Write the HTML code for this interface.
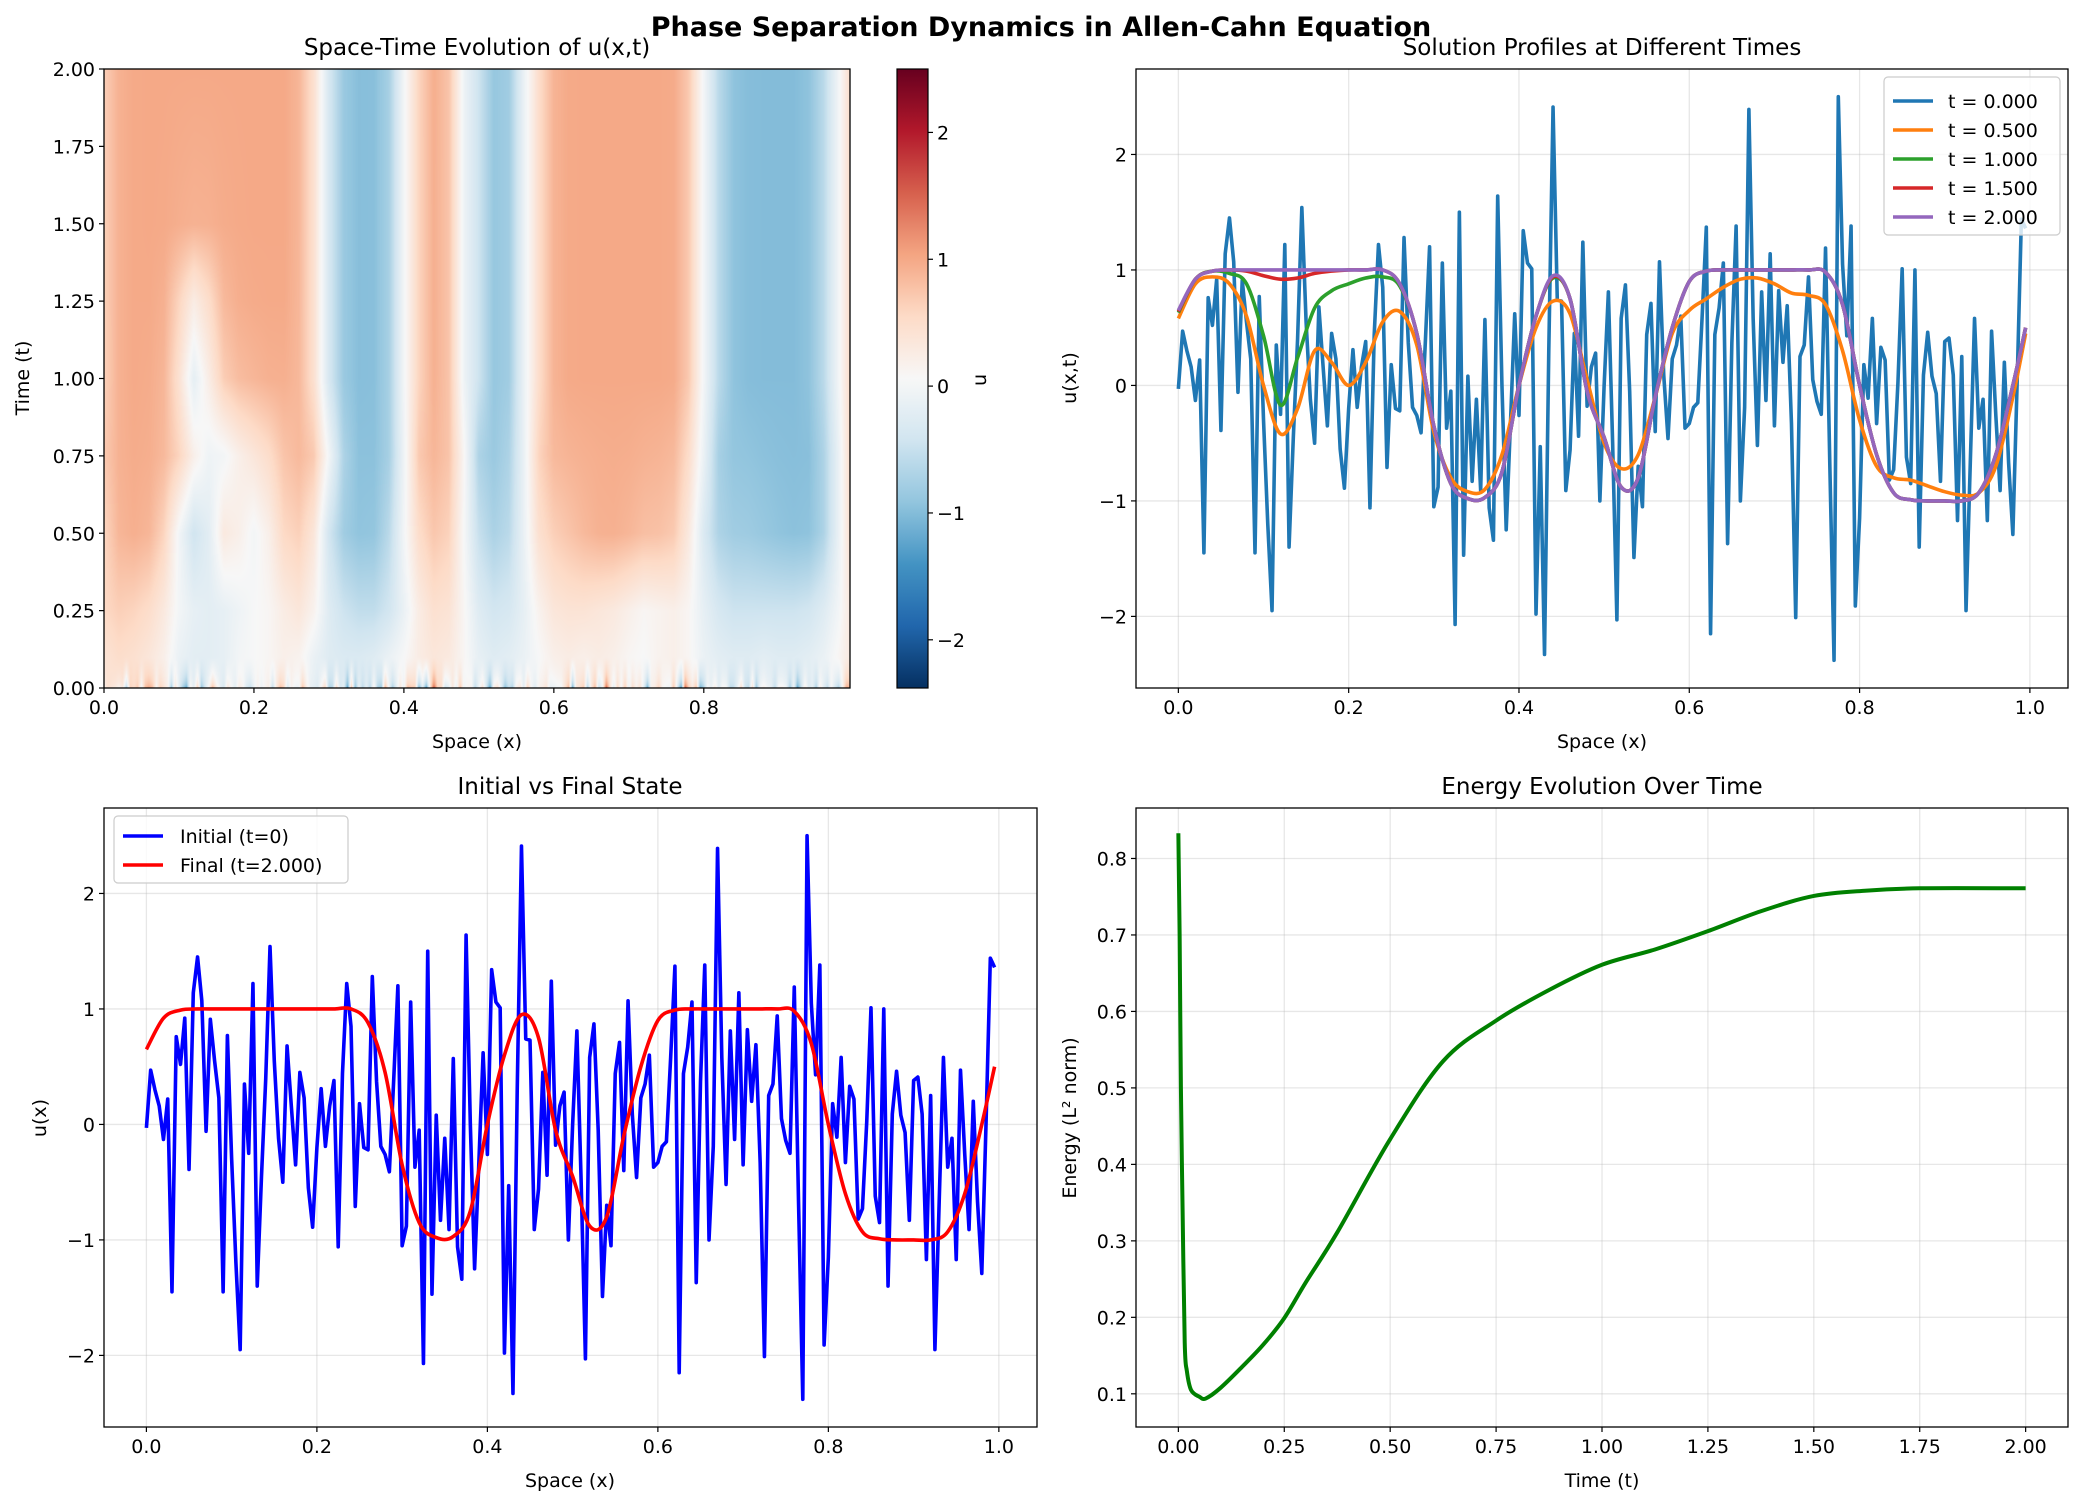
<!DOCTYPE html>
<html><head><meta charset="utf-8">
<style>
html,body{margin:0;padding:0;background:#fff;}
#wrap{position:relative;width:2083px;height:1505px;overflow:hidden;font-family:"DejaVu Sans","Liberation Sans",sans-serif;}
#heat{position:absolute;left:104px;top:69px;}
#svg{position:absolute;left:0;top:0;}
text{font-family:"DejaVu Sans","Liberation Sans",sans-serif;fill:#000;}
</style></head>
<body>
<div id="wrap">
<canvas id="heat" width="746" height="619"></canvas>
<svg id="svg" width="2083" height="1505" xmlns="http://www.w3.org/2000/svg"></svg>
</div>
<script>
// ---------- data ----------
const initialU = [-0.03,0.47,0.3,0.16,-0.13,0.22,-1.45,0.76,0.52,0.92,
-0.39,1.14,1.45,1.07,-0.06,0.91,0.55,0.23,-1.45,0.77,
-0.3,-1.2,-1.95,0.35,-0.25,1.22,-1.4,-0.45,0.4,1.54,
0.55,-0.12,-0.5,0.68,0.16,-0.35,0.45,0.23,-0.55,-0.89,
-0.2,0.31,-0.19,0.16,0.38,-1.06,0.44,1.22,0.85,-0.71,
0.18,-0.2,-0.22,1.28,0.37,-0.19,-0.26,-0.41,0.37,1.2,
-1.05,-0.88,1.06,-0.37,-0.05,-2.07,1.5,-1.47,0.08,-0.83,
-0.12,-0.91,0.57,-1.06,-1.34,1.64,0.0,-1.25,-0.33,0.62,
-0.26,1.34,1.06,1.01,-1.98,-0.53,-2.33,0.3,2.41,0.74,
0.73,-0.91,-0.56,0.45,-0.44,1.24,-0.18,0.16,0.28,-1.0,
0.0,0.81,-0.5,-2.03,0.58,0.87,-0.05,-1.49,-0.7,-1.05,
0.44,0.71,-0.4,1.07,0.09,-0.46,0.23,0.35,0.6,-0.37,
-0.33,-0.19,-0.15,0.58,1.37,-2.15,0.44,0.67,1.06,-1.37,
0.37,1.38,-1.0,-0.19,2.39,0.58,-0.52,0.81,-0.13,1.14,
-0.35,0.82,0.2,0.69,-0.33,-2.01,0.25,0.35,0.94,0.05,
-0.14,-0.25,1.19,-0.67,-2.38,2.5,1.05,0.43,1.38,-1.91,
-1.15,0.18,-0.11,0.58,-0.33,0.33,0.22,-0.82,-0.73,0.02,
1.01,-0.62,-0.85,1.0,-1.4,0.09,0.46,0.08,-0.07,-0.83,
0.38,0.41,0.09,-1.17,0.25,-1.95,-0.67,0.58,-0.37,-0.12,
-1.17,0.47,-0.26,-0.91,0.2,-0.67,-1.29,0.02,1.44,1.36];
const profileX = [0,0.02,0.04,0.06,0.08,0.1,0.12,0.14,0.16,0.18,0.2,0.22,0.24,0.26,0.28,0.3,0.32,0.34,0.36,0.38,0.4,0.42,0.44,0.46,0.48,0.5,0.52,0.54,0.56,0.58,0.6,0.62,0.64,0.66,0.68,0.7,0.72,0.74,0.76,0.78,0.8,0.82,0.84,0.86,0.88,0.9,0.92,0.94,0.96,0.98,0.995];
const uT050 = [0.58,0.88,0.94,0.88,0.6,0.0,-0.42,-0.2,0.3,0.2,0.0,0.2,0.55,0.64,0.35,-0.4,-0.8,-0.92,-0.9,-0.6,0.0,0.5,0.73,0.62,0.05,-0.5,-0.72,-0.6,-0.1,0.45,0.65,0.75,0.85,0.92,0.93,0.88,0.8,0.78,0.7,0.3,-0.3,-0.7,-0.8,-0.82,-0.87,-0.92,-0.95,-0.93,-0.7,-0.1,0.45];
const uT100 = [0.63,0.92,0.99,0.97,0.88,0.43,-0.17,0.24,0.67,0.82,0.88,0.93,0.94,0.86,0.45,-0.35,-0.85,-0.98,-0.97,-0.75,0.0,0.6,0.93,0.75,-0.05,-0.45,-0.88,-0.8,-0.1,0.5,0.9,0.99,1,1,1,1,1,1,0.98,0.7,0.0,-0.6,-0.93,-0.99,-1,-1,-1,-0.93,-0.6,0.0,0.5];
const uT150 = [0.64,0.92,0.99,1,0.99,0.95,0.92,0.93,0.97,0.99,1,1,1,0.88,0.45,-0.35,-0.85,-0.98,-0.97,-0.75,0.0,0.6,0.94,0.75,-0.05,-0.45,-0.88,-0.8,-0.1,0.5,0.9,0.99,1,1,1,1,1,1,0.98,0.7,0.0,-0.6,-0.93,-0.99,-1,-1,-1,-0.93,-0.6,0.0,0.5];
const uT200 = [0.65,0.92,0.99,1,1,1,1,1,1,1,1,1,1,0.88,0.45,-0.35,-0.85,-0.98,-0.97,-0.75,0.0,0.6,0.95,0.75,-0.05,-0.45,-0.88,-0.8,-0.1,0.5,0.9,0.99,1,1,1,1,1,1,0.98,0.7,0.0,-0.6,-0.93,-0.99,-1,-1,-1,-0.93,-0.6,0.0,0.5];
const uT010 = [0.4,0.5,0.45,0.35,0.2,-0.1,-0.2,-0.2,-0.15,0.0,0.05,0.1,0.2,0.15,-0.1,-0.25,-0.3,-0.3,-0.25,-0.1,0.05,0.25,0.35,0.3,0.1,-0.15,-0.25,-0.2,-0.1,0.05,0.2,0.25,0.2,0.25,0.2,0.1,0.05,0.15,0.2,0.1,-0.1,-0.2,-0.25,-0.25,-0.2,-0.25,-0.25,-0.2,-0.1,0.1,0.3];
const uT025 = [0.55,0.65,0.6,0.5,0.3,0.0,-0.15,-0.2,-0.15,-0.05,0.05,0.1,0.25,0.35,0.15,-0.25,-0.45,-0.55,-0.55,-0.4,-0.1,0.25,0.45,0.4,0.1,-0.25,-0.4,-0.35,-0.15,0.15,0.35,0.4,0.4,0.35,0.3,0.2,0.1,0.15,0.2,0.1,-0.15,-0.35,-0.45,-0.45,-0.45,-0.45,-0.45,-0.4,-0.25,0.0,0.3];
const uT075 = [0.7,0.92,0.97,0.95,0.85,0.6,0.2,-0.05,0.0,0.2,0.35,0.5,0.75,0.85,0.7,0.0,-0.7,-0.95,-0.95,-0.75,-0.05,0.7,0.88,0.75,0.1,-0.7,-0.85,-0.7,-0.1,0.6,0.85,0.9,0.93,0.95,0.96,0.95,0.92,0.9,0.85,0.5,-0.1,-0.75,-0.9,-0.92,-0.95,-0.97,-0.98,-0.97,-0.7,-0.1,0.5];
const uT125 = [0.64,0.92,0.99,0.99,0.93,0.6,0.25,0.5,0.85,0.95,0.98,0.99,0.99,0.87,0.45,-0.35,-0.85,-0.98,-0.97,-0.75,0.0,0.6,0.94,0.75,-0.05,-0.45,-0.88,-0.8,-0.1,0.5,0.9,0.99,1,1,1,1,1,1,0.98,0.7,0.0,-0.6,-0.93,-0.99,-1,-1,-1,-0.93,-0.6,0.0,0.5];
const heatTimes = [0.1,0.25,0.5,0.75,1.0,1.25,1.5,2.0];
const energyT = [0,0.003,0.006,0.01,0.015,0.02,0.03,0.05,0.065,0.1,0.15,0.2,0.25,0.3,0.375,0.5,0.625,0.75,0.875,1.0,1.125,1.25,1.375,1.5,1.625,1.75,2.0];
const energyE = [0.833,0.7,0.5,0.34,0.167,0.13,0.105,0.096,0.094,0.108,0.135,0.164,0.199,0.245,0.311,0.433,0.535,0.588,0.628,0.661,0.681,0.705,0.731,0.751,0.758,0.761,0.761];
const legendLabels = ["t = 0.000","t = 0.500","t = 1.000","t = 1.500","t = 2.000"];
const tickXSpace = [0,0.2,0.4,0.6,0.8,1.0];
const tickYU = [-2,-1,0,1,2];
const tickXHeat = [0,0.2,0.4,0.6,0.8];
const tickYHeat = [0,0.25,0.5,0.75,1.0,1.25,1.5,1.75,2.0];
const tickCbar = [-2,-1,0,1,2];
const tickXTime = [0,0.25,0.5,0.75,1.0,1.25,1.5,1.75,2.0];
const tickYEnergy = [0.1,0.2,0.3,0.4,0.5,0.6,0.7,0.8];

// ---------- helpers ----------
const NS="http://www.w3.org/2000/svg";
const svg=document.getElementById('svg');
function mk(tag,attrs,parent){const e=document.createElementNS(NS,tag);for(const k in attrs)e.setAttribute(k,attrs[k]);(parent||svg).appendChild(e);return e;}
function axis(l,r,t,b,x0,x1,y0,y1){return {l,r,t,b,X:v=>l+(v-x0)/(x1-x0)*(r-l),Y:v=>b-(v-y0)/(y1-y0)*(b-t)};}
const vmin=-2.38,vmax=2.5;
const xs200=initialU.map((_,i)=>i/200);
const A1=axis(104,850,69,688,0,0.995,0,2);
const A2=axis(1136,2068,69,688,-0.04975,1.04475,-2.62,2.74);
const A3=axis(104,1037,808,1427,-0.04975,1.04475,-2.62,2.74);
const A4=axis(1136,2068,808,1427,-0.1,2.1,0.0566,0.866);

const stops=[[0,[5,48,97]],[0.1,[33,102,172]],[0.2,[67,147,195]],[0.3,[146,197,222]],[0.4,[209,229,240]],[0.5,[247,247,247]],[0.6,[253,219,199]],[0.7,[244,165,130]],[0.8,[214,96,77]],[0.9,[178,24,43]],[1,[103,0,31]]];
function cmap(v){let f=(v-vmin)/(vmax-vmin);f=Math.max(0,Math.min(1,f));for(let i=1;i<stops.length;i++){if(f<=stops[i][0]){const a=stops[i-1],b=stops[i];const w=(f-a[0])/(b[0]-a[0]);return [0,1,2].map(k=>a[1][k]+(b[1][k]-a[1][k])*w);}}return stops[10][1];}
function interp(xsArr,ys,x){if(x<=xsArr[0])return ys[0];for(let i=1;i<xsArr.length;i++){if(x<=xsArr[i]){const w=(x-xsArr[i-1])/(xsArr[i]-xsArr[i-1]);return ys[i-1]+(ys[i]-ys[i-1])*w;}}return ys[ys.length-1];}

// ---------- heatmap ----------
(function(){
const rows=[uT010,uT025,uT050,uT075,uT100,uT125,uT150,uT200];
const c=document.getElementById('heat'),ctx=c.getContext('2d');const W=746,H=619;
const img=ctx.createImageData(W,H);
for(let px=0;px<W;px++){
 const x=(px+0.5)/W*0.995;
 const noise=interp(xs200,initialU,x);
 const rv=rows.map(r=>interp(profileX,r,x));
 for(let py=0;py<H;py++){
  const t=(H-py-0.5)/H*2;
  let v;
  if(t<heatTimes[0]){const w=Math.pow(t/heatTimes[0],0.25);v=noise*(1-w)+rv[0]*w;}
  else v=interp(heatTimes,rv,t);
  const col=cmap(v);const o=(py*W+px)*4;
  img.data[o]=col[0];img.data[o+1]=col[1];img.data[o+2]=col[2];img.data[o+3]=255;
 }
}
ctx.putImageData(img,0,0);
})();

// ---------- generic axes drawing ----------
function frame(A,name){
 const r=mk('rect',{x:A.l,y:A.t,width:A.r-A.l,height:A.b-A.t,fill:'none',stroke:'#000','stroke-width':1.3});
 
 
}
function grid(A,xt,yt,name){
 xt.forEach(v=>{const g=mk('line',{x1:A.X(v),x2:A.X(v),y1:A.t,y2:A.b,stroke:'#b0b0b0','stroke-opacity':0.3,'stroke-width':1.3});
  
  });
 yt.forEach(v=>{const g=mk('line',{x1:A.l,x2:A.r,y1:A.Y(v),y2:A.Y(v),stroke:'#b0b0b0','stroke-opacity':0.3,'stroke-width':1.3});
  
  });
}
function ticks(A,xt,xl,yt,yl,name){
 xt.forEach((v,i)=>{const x=A.X(v);
  const tk=mk('line',{x1:x,x2:x,y1:A.b,y2:A.b+5,stroke:'#000','stroke-width':1.2});
  
  
  const t=mk('text',{x:x,y:A.b+26,'font-size':19,'text-anchor':'middle'});t.textContent=xl[i];
  
  });
 yt.forEach((v,i)=>{const y=A.Y(v);
  const tk=mk('line',{x1:A.l-5,x2:A.l,y1:y,y2:y,stroke:'#000','stroke-width':1.2});
  
  
  const t=mk('text',{x:A.l-9,y:y+7,'font-size':19,'text-anchor':'end'});t.textContent=yl[i];
  
  });
}
function label(x,y,txt,size,rot,name,weight){
 const t=mk('text',{x:x,y:y,'font-size':size,'text-anchor':'middle','font-weight':weight||'normal'});
 if(rot)t.setAttribute('transform','rotate('+rot+' '+x+' '+y+')');
 t.textContent=txt;
 
 
}
function line(A,xArr,yArr,color,w,name,smooth){
 const P=xArr.map((x,i)=>[A.X(x),A.Y(yArr[i])]);
 let d='M'+P[0][0].toFixed(2)+' '+P[0][1].toFixed(2);
 for(let i=1;i<P.length;i++){
  if(smooth){const p0=P[Math.max(0,i-2)],p1=P[i-1],p2=P[i],p3=P[Math.min(P.length-1,i+1)];
   const c1=[p1[0]+(p2[0]-p0[0])/6,p1[1]+(p2[1]-p0[1])/6],c2=[p2[0]-(p3[0]-p1[0])/6,p2[1]-(p3[1]-p1[1])/6];
   d+=' C'+c1[0].toFixed(2)+' '+c1[1].toFixed(2)+' '+c2[0].toFixed(2)+' '+c2[1].toFixed(2)+' '+p2[0].toFixed(2)+' '+p2[1].toFixed(2);}
  else d+=' L'+P[i][0].toFixed(2)+' '+P[i][1].toFixed(2);
 }
 const p=mk('path',{d:d,fill:'none',stroke:color,'stroke-width':w,'stroke-linejoin':'round','stroke-linecap':'butt'});
 
 
}
const fmt2=v=>v.toFixed(2), fmt1=v=>v.toFixed(1), fmtI=v=>(v<0?'\u2212':'')+Math.abs(v);

// suptitle
label(1041,36,'Phase Separation Dynamics in Allen-Cahn Equation',27,0,'figure-title','bold');

// ---- panel 1: heatmap ----
frame(A1,'heatmap');
ticks(A1,tickXHeat,tickXHeat.map(fmt1),tickYHeat,tickYHeat.map(fmt2),'heatmap');
label(477,55,'Space-Time Evolution of u(x,t)',23,0,'heatmap-title');
label(477,748,'Space (x)',19,0,'heatmap-x-axis-title');
label(29,378,'Time (t)',19,-90,'heatmap-y-axis-title');
// colorbar
(function(){
 const defs=mk('defs',{});
 const g=mk('linearGradient',{id:'cb',x1:0,y1:1,x2:0,y2:0},defs);
 for(let i=0;i<=40;i++){const f=i/40;const c=cmap(vmin+f*(vmax-vmin));mk('stop',{offset:f,'stop-color':'rgb('+c.map(Math.round).join(',')+')'},g);}
 const CB=axis(897,928,69,688,0,1,vmin,vmax);
 const r=mk('rect',{x:897,y:69,width:31,height:619,fill:'url(#cb)',stroke:'#000','stroke-width':1.2});
 
 
 tickCbar.forEach(v=>{const y=CB.Y(v);
  const tk=mk('line',{x1:928,x2:933,y1:y,y2:y,stroke:'#000','stroke-width':1.2});
  
  
  const t=mk('text',{x:937,y:y+7,'font-size':19});t.textContent=fmtI(v);
  
  });
 label(986,380,'u',19,-90,'colorbar-label');
})();

// ---- panel 2: profiles ----
grid(A2,tickXSpace,tickYU,'profiles');
line(A2,xs200,initialU,'#1f77b4',3.6,'profile-t0',false);
line(A2,profileX,uT050,'#ff7f0e',3.6,'profile-t0.5',true);
line(A2,profileX,uT100,'#2ca02c',3.6,'profile-t1.0',true);
line(A2,profileX,uT150,'#d62728',3.6,'profile-t1.5',true);
line(A2,profileX,uT200,'#9467bd',3.6,'profile-t2.0',true);
frame(A2,'profiles');
ticks(A2,tickXSpace,tickXSpace.map(fmt1),tickYU,tickYU.map(fmtI),'profiles');
label(1602,55,'Solution Profiles at Different Times',23,0,'profiles-title');
label(1602,748,'Space (x)',19,0,'profiles-x-axis-title');
label(1076,378,'u(x,t)',19,-90,'profiles-y-axis-title');
(function(){
 const cols=['#1f77b4','#ff7f0e','#2ca02c','#d62728','#9467bd'];
 const b=mk('rect',{x:1884,y:77,width:176,height:158,rx:4,fill:'#fff','fill-opacity':0.8,stroke:'#ccc','stroke-width':1.2});
 
 
 legendLabels.forEach((s,i)=>{const y=101+i*29;
  const l=mk('line',{x1:1893,x2:1933,y1:y,y2:y,stroke:cols[i],'stroke-width':3.6});
  
  
  const t=mk('text',{x:1948,y:y+7,'font-size':19});t.textContent=s;
  
  });
})();

// ---- panel 3: initial vs final ----
grid(A3,tickXSpace,tickYU,'compare');
line(A3,xs200,initialU,'#0000ff',3.6,'initial-line',false);
line(A3,profileX,uT200,'#ff0000',3.6,'final-line',true);
frame(A3,'compare');
ticks(A3,tickXSpace,tickXSpace.map(fmt1),tickYU,tickYU.map(fmtI),'compare');
label(570,794,'Initial vs Final State',23,0,'compare-title');
label(570,1487,'Space (x)',19,0,'compare-x-axis-title');
label(46,1118,'u(x)',19,-90,'compare-y-axis-title');
(function(){
 const b=mk('rect',{x:114,y:816,width:234,height:67,rx:4,fill:'#fff','fill-opacity':0.8,stroke:'#ccc','stroke-width':1.2});
 
 
 const labs=['Initial (t=0)','Final (t=2.000)'],cols=['#0000ff','#ff0000'];
 labs.forEach((s,i)=>{const y=836+i*29;
  const l=mk('line',{x1:123,x2:163,y1:y,y2:y,stroke:cols[i],'stroke-width':3.6});
  
  
  const t=mk('text',{x:180,y:y+7,'font-size':19});t.textContent=s;
  
  });
})();

// ---- panel 4: energy ----
grid(A4,tickXTime,tickYEnergy,'energy');
line(A4,energyT,energyE,'#008000',4,'energy-line',true);
frame(A4,'energy');
ticks(A4,tickXTime,tickXTime.map(fmt2),tickYEnergy,tickYEnergy.map(fmt1),'energy');
label(1602,794,'Energy Evolution Over Time',23,0,'energy-title');
label(1602,1487,'Time (t)',19,0,'energy-x-axis-title');
label(1076,1118,'Energy (L\u00b2 norm)',19,-90,'energy-y-axis-title');
</script>
</body></html>
